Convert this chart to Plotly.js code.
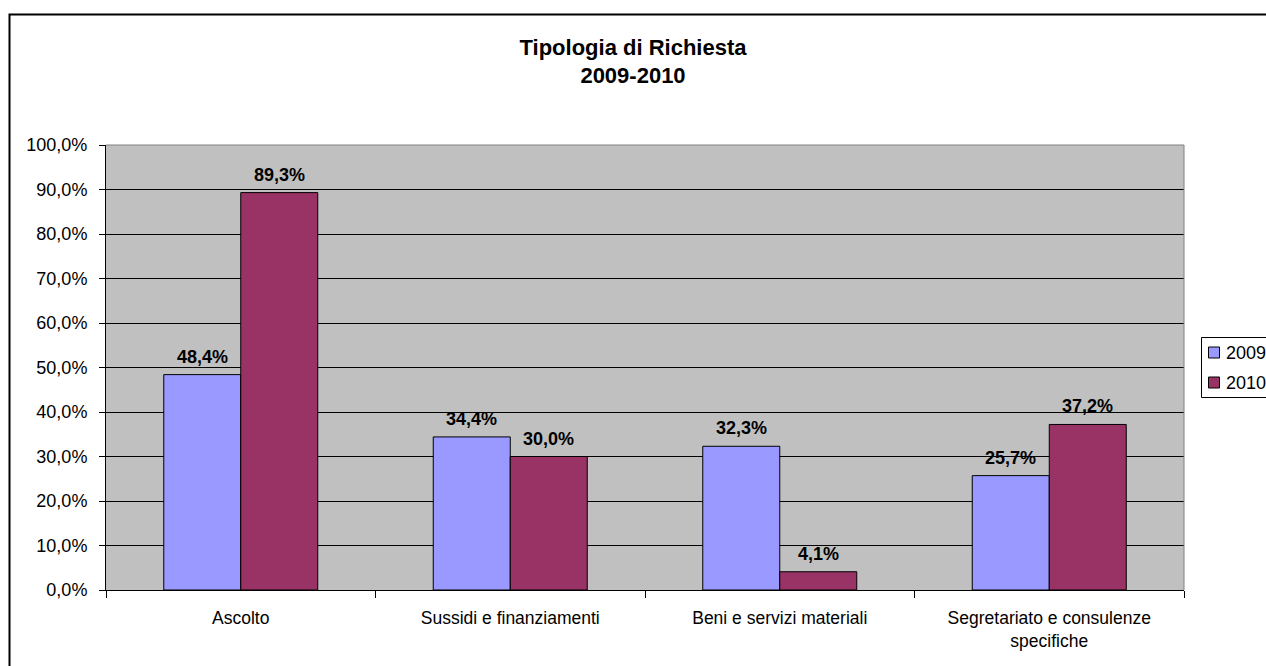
<!DOCTYPE html>
<html>
<head>
<meta charset="utf-8">
<script src="https://cdn.plot.ly/plotly-3.0.1.min.js"></script>
<style>
  html, body { margin: 0; padding: 0; background: #fff; }
  #chart { width: 1266px; height: 666px; }
</style>
</head>
<body>
<div id="chart"></div>
<script>
// Tipologia di richiesta, confronto 2009 / 2010 (valori in %)
const categories = [
  "Ascolto",
  "Sussidi e finanziamenti",
  "Beni e servizi materiali",
  "Segretariato e consulenze<br>specifiche"
];
const years = ["2009", "2010"];
const values2009 = [48.4, 34.4, 32.3, 25.7];
const values2010 = [89.3, 30.0, 4.1, 37.2];
const yTicks = [0, 10, 20, 30, 40, 50, 60, 70, 80, 90, 100];

const FONT = "Liberation Sans, Arial, sans-serif";
const colors = ["#9999FF", "#993366"];
const series = [values2009, values2010];

// plot area in pixels
const W = 1266, H = 666;
const M = { l: 106, r: 82, t: 145, b: 76 };
const plotW = W - M.l - M.r, plotH = H - M.t - M.b;
const px = x => (x - M.l) / plotW;          // pixel x -> paper x
const py = y => (H - M.b - y) / plotH;      // pixel y -> paper y

// Italian number format: one decimal, comma separator
const fmtPct = v => v.toFixed(1).replace(".", ",") + "%";

const data = series.map((vals, i) => ({
  type: "bar",
  name: years[i],
  x: categories,
  y: vals,
  marker: { color: colors[i], line: { color: "#000000", width: 1 } },
  hoverinfo: "skip",
  showlegend: false
}));

// value labels above each bar (bar half-width offset within the group)
const barOffsetPx = 38.5;
const annotations = [];
series.forEach((vals, i) => {
  vals.forEach((v, j) => {
    annotations.push({
      x: categories[j],
      y: v,
      xref: "x",
      yref: "y",
      text: "<b>" + fmtPct(v) + "</b>",
      showarrow: false,
      xanchor: "center",
      yanchor: "bottom",
      xshift: (i === 0 ? -1 : 1) * barOffsetPx,
      yshift: 6,
      font: { family: FONT, size: 18, color: "#000000" }
    });
  });
});

const shapes = [
  // grey frame on the top and right of the plot area
  {
    type: "line", xref: "paper", yref: "paper",
    x0: 0, x1: 1, y0: 1, y1: 1,
    line: { color: "#808080", width: 1 }, layer: "above"
  },
  {
    type: "line", xref: "paper", yref: "paper",
    x0: 1, x1: 1, y0: 0, y1: 1,
    line: { color: "#808080", width: 1 }, layer: "above"
  },
  // outer chart border
  {
    type: "rect", xref: "paper", yref: "paper",
    x0: px(9.5), x1: px(1320),
    y0: py(720), y1: py(14.5),
    line: { color: "#000000", width: 2 },
    fillcolor: "rgba(0,0,0,0)",
    layer: "above"
  },
  // legend box
  {
    type: "rect", xref: "paper", yref: "paper",
    x0: px(1201.5), x1: px(1300),
    y0: py(397.5), y1: py(337.5),
    line: { color: "#000000", width: 1 },
    fillcolor: "#FFFFFF",
    layer: "above"
  }
];

// legend entries: colour swatch + year
const legendRowY = [352.5, 382.5];
years.forEach((yr, i) => {
  shapes.push({
    type: "rect", xref: "paper", yref: "paper",
    x0: px(1208.5), x1: px(1219.5),
    y0: py(legendRowY[i] + 5.5), y1: py(legendRowY[i] - 5.5),
    line: { color: "#000000", width: 1 },
    fillcolor: colors[i],
    layer: "above"
  });
  annotations.push({
    x: px(1224), y: py(legendRowY[i]),
    xref: "paper", yref: "paper",
    text: yr,
    showarrow: false,
    xanchor: "left",
    yanchor: "middle",
    font: { family: FONT, size: 18, color: "#000000" }
  });
});

const layout = {
  width: W,
  height: H,
  margin: { l: M.l, r: M.r, t: M.t, b: M.b, autoexpand: false },
  paper_bgcolor: "#FFFFFF",
  plot_bgcolor: "#C0C0C0",
  separators: ",.",
  font: { family: FONT, color: "#000000" },
  title: {
    text: "<b>Tipologia di Richiesta<br>2009-2010</b>",
    font: { family: FONT, size: 22, color: "#000000" },
    x: 0.5,
    xanchor: "center",
    y: 0.918,
    yanchor: "top"
  },
  barmode: "group",
  bargap: 0.4286,
  bargroupgap: 0,
  xaxis: {
    type: "category",
    showgrid: false,
    zeroline: false,
    showline: true,
    linecolor: "#000000",
    linewidth: 1,
    ticks: "outside",
    tickson: "boundaries",
    ticklen: 7,
    tickcolor: "#000000",
    tickwidth: 1,
    ticklabelstandoff: 12,
    tickfont: { family: FONT, size: 17.5, color: "#000000" },
    fixedrange: true
  },
  yaxis: {
    range: [0, 100],
    tickmode: "array",
    tickvals: yTicks,
    ticktext: yTicks.map(fmtPct),
    showgrid: true,
    gridcolor: "#000000",
    gridwidth: 1,
    zeroline: false,
    showline: true,
    linecolor: "#000000",
    linewidth: 1,
    ticks: "outside",
    ticklen: 6,
    tickcolor: "#000000",
    tickwidth: 1,
    ticklabelstandoff: 8,
    tickfont: { family: FONT, size: 18, color: "#000000" },
    fixedrange: true
  },
  showlegend: false,
  annotations: annotations,
  shapes: shapes
};

Plotly.newPlot("chart", data, layout, { displayModeBar: false, staticPlot: true });
</script>
</body>
</html>
